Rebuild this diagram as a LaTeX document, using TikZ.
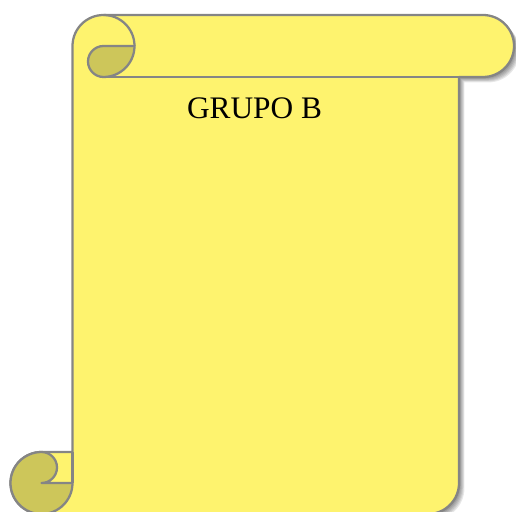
\documentclass[tikz,border=0pt]{standalone}
\usepackage{fontspec}
\setmainfont{Liberation Serif}
\usepackage{tikz}
\usetikzlibrary{positioning}
\definecolor{ScrollLight}{HTML}{FEF36E}
\definecolor{ScrollDark}{HTML}{CDC65A}
\definecolor{ScrollLine}{HTML}{858585}

\begin{document}
\begin{tikzpicture}[x=0.75pt, y=0.75pt,
  scroll/.style={draw=ScrollLine, line width=1.7pt, fill=ScrollLight, line join=round},
  curl/.style={draw=ScrollLine, line width=1.7pt, fill=ScrollDark, line join=round},
  edge/.style={draw=ScrollLine, line width=1.7pt},
  shade/.style={fill=black, opacity=0.09}]
\useasboundingbox (0,0) rectangle (516,511);
\clip (0,0) rectangle (516,511);

\foreach \s in {1,2,3,4,5,6}{
  \fill[shade, shift={(\s*0.9,-\s*0.9)}] (103.5,496) -- (483,496) arc[start angle=90,end angle=-90,radius=31] -- (459,434) -- (459,28) arc[start angle=0,end angle=-90,radius=31] -- (41.5,-3) -- (72.5,59) -- (72.5,465) arc[start angle=180,end angle=90,radius=31] -- cycle;
}

\path[scroll] (103.5,496) -- (483,496) arc[start angle=90,end angle=-90,radius=31] -- (459,434) -- (459,28) arc[start angle=0,end angle=-90,radius=31] -- (41.5,-3) arc[start angle=270,end angle=90,radius=31] -- (72.5,59) -- (72.5,465) arc[start angle=180,end angle=90,radius=31] -- cycle;

\draw[edge] (103.5,496) arc[start angle=90,end angle=0,radius=31];
\draw[edge] (103.5,434) -- (459,434);
\path[curl] (103.5,465) -- (134.5,465) arc[start angle=0,end angle=-90,radius=31] arc[start angle=270,end angle=90,radius=15.5] -- cycle;

\path[curl] (41.5,28) -- (72.5,28) arc[start angle=0,end angle=-270,radius=31] arc[start angle=90,end angle=-90,radius=15.5] -- cycle;
\draw[edge] (72.5,28) -- (72.5,59);

\node[font=\fontsize{23.5}{28}\selectfont, inner sep=0pt] (title) at (254.5,402.5) {GRUPO B};

\end{tikzpicture}
\end{document}
